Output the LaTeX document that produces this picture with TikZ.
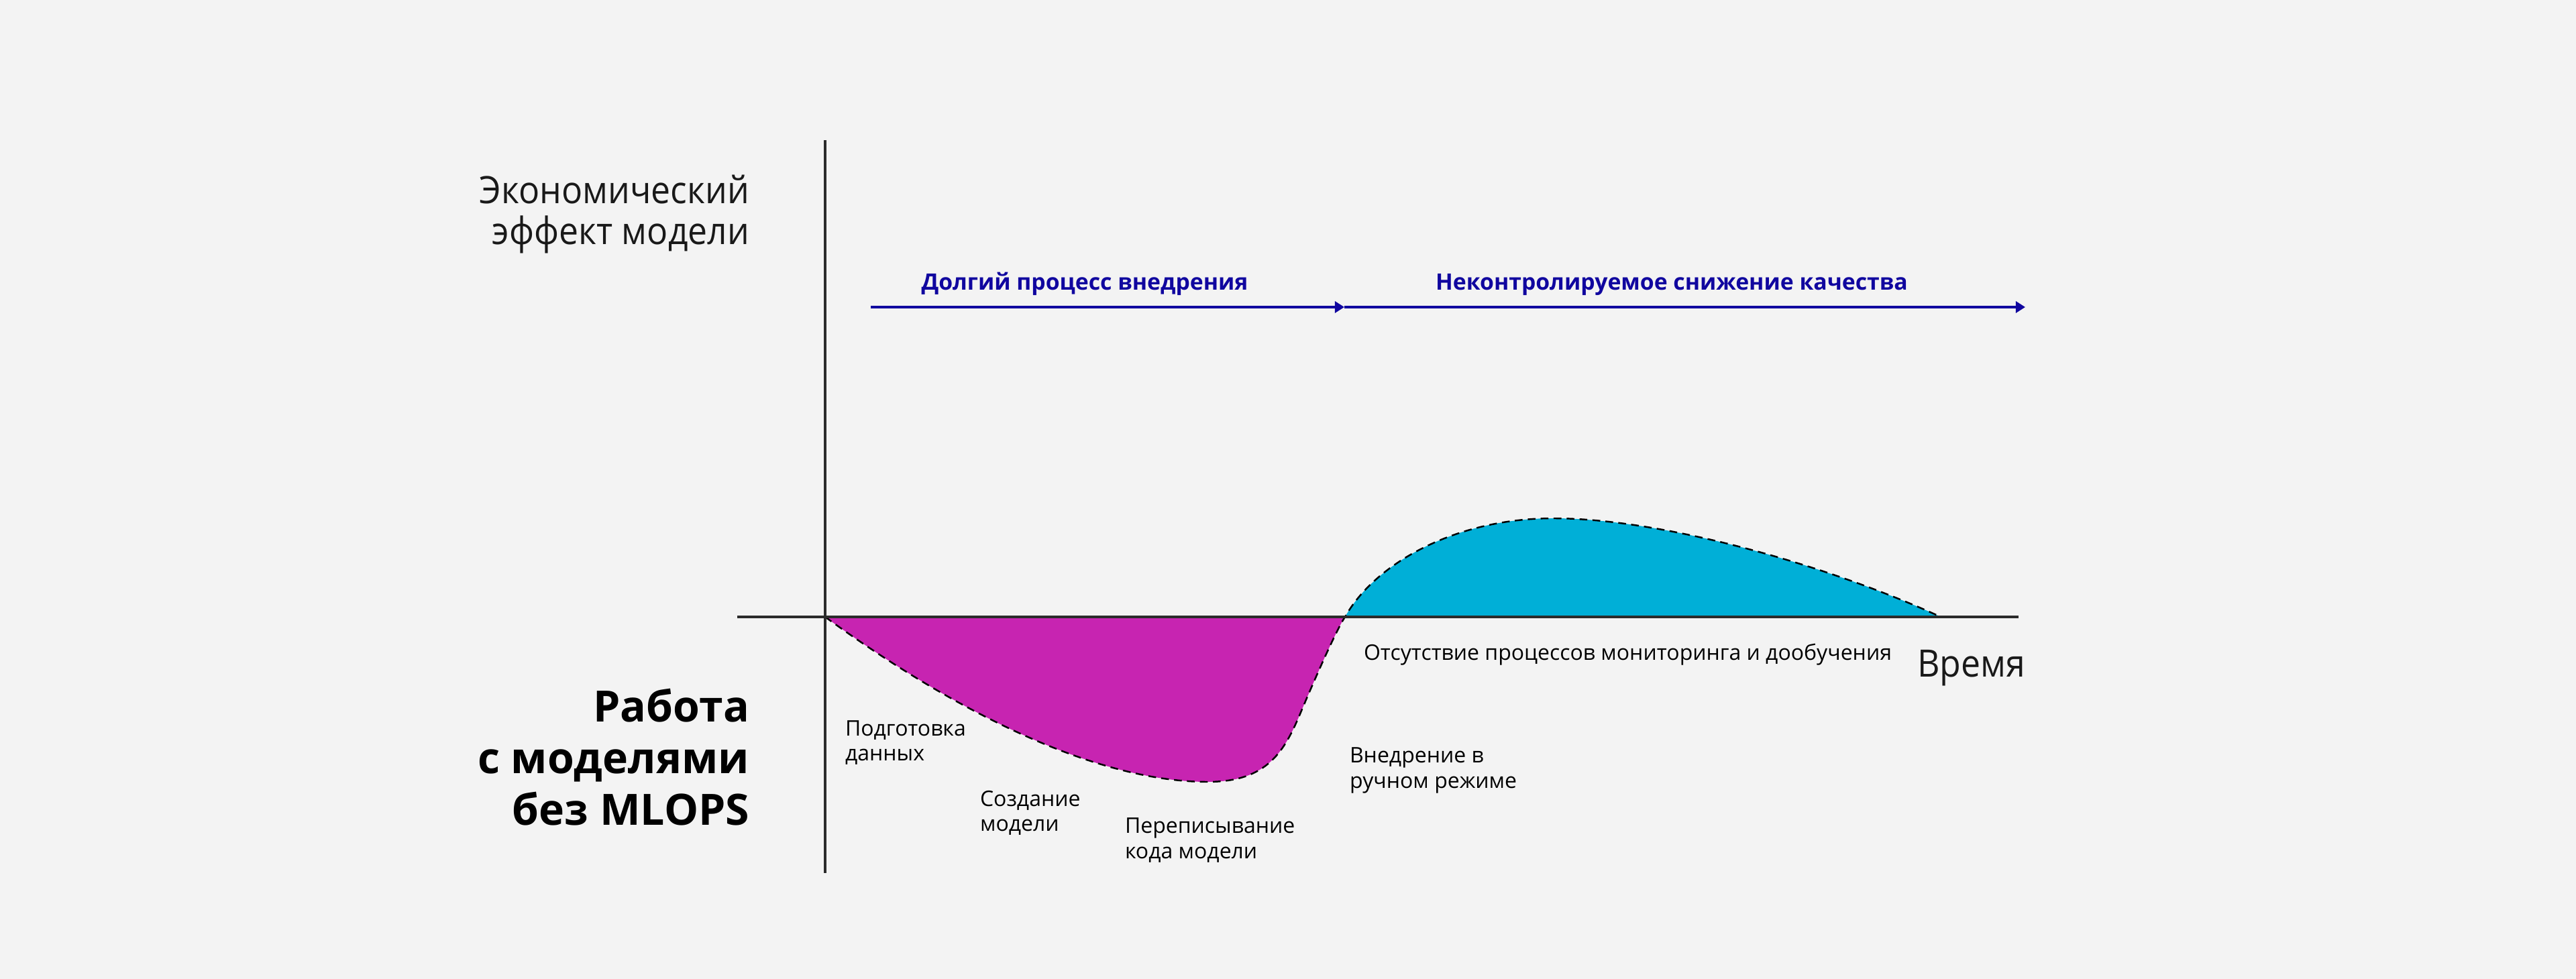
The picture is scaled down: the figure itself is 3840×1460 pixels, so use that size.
\documentclass[tikz,border=0pt]{standalone}
\usepackage{fontspec}
\setmainfont{Open Sans}
\newfontfamily\axisfont{Open Sans}[FakeStretch=0.92]
\usetikzlibrary{arrows.meta,positioning}
\definecolor{bggray}{HTML}{F3F3F3}
\definecolor{lossmagenta}{HTML}{C724B1}
\definecolor{gaincyan}{HTML}{00AFD7}
\definecolor{phaseblue}{HTML}{10069F}
\definecolor{axisgray}{HTML}{2B2B2B}
\begin{document}
\begin{tikzpicture}[x=0.1mm,y=-0.1mm,
    every node/.style={inner sep=0pt,outer sep=0pt},
    axisline/.style={draw=axisgray,line width=1.15pt},
    phasearrow/.style={draw=phaseblue,line width=1pt,-{Triangle[length=4pt,width=4.8pt]}},
    phaselabel/.style={font=\fontsize{9.6}{11}\selectfont\bfseries,text=phaseblue,anchor=base},
    stagelabel/.style={font=\fontsize{9.1}{10.8}\selectfont,align=left,anchor=base west},
    bigaxislabel/.style={font=\axisfont\fontsize{16}{17.6}\selectfont,text=black!90},
    effectcurve/.style={draw=black,line width=0.7pt,dash pattern=on 3.3pt off 2.2pt}
    ]

    \fill[bggray] (0,0) rectangle (3840,1460);

    % axes and phase arrows
    \coordinate (O) at (1230,920);
    \coordinate (ytop) at (1230,209);
    \coordinate (ybot) at (1230,1302);
    \coordinate (xleft) at (1099,920);
    \coordinate (xright) at (3009,920);
    \coordinate (cross) at (2005,920);
    \coordinate (gainend) at (2893,920);
    \coordinate (phase0) at (1298,458);
    \coordinate (phase1) at (2004,458);
    \coordinate (phase2) at (3019,458);

    % loss and gain areas
    \fill[lossmagenta] (O) .. controls (1450,1080) and (1650,1166) .. (1800,1166)
      .. controls (1890,1166) and (1915,1120) .. (1940,1060)
      .. controls (1956,1022) and (1991,941) .. (cross) -- cycle;
    \fill[gaincyan] (cross) .. controls (2050,840) and (2170,773) .. (2315,773)
      .. controls (2480,773) and (2730,845) .. (gainend) -- cycle;
    \draw[effectcurve] (O) .. controls (1450,1080) and (1650,1166) .. (1800,1166)
      .. controls (1890,1166) and (1915,1120) .. (1940,1060)
      .. controls (1956,1022) and (1991,941) .. (cross)
      .. controls (2050,840) and (2170,773) .. (2315,773)
      .. controls (2480,773) and (2730,845) .. (gainend);

    \draw[axisline] (xleft) -- (xright);
    \draw[axisline] (ytop) -- (ybot);
    \draw[phasearrow] (phase0) -- (phase1);
    \draw[phasearrow] (phase1) -- (phase2);

    \node[phaselabel] (slow) at (1617,433) {Долгий процесс внедрения};
    \node[phaselabel] (decay) at (2492,433) {Неконтролируемое снижение качества};

    \node[bigaxislabel,align=right,anchor=base east] (effect) at (1117,365) {Экономический\\эффект модели};
    \node[bigaxislabel,anchor=base west] (time) at (2858,1010) {Время};
    \node[font=\fontsize{18.3}{21.9}\selectfont\bfseries,align=right,anchor=base east] (nomlops) at (1117,1230) {Работа\\с моделями\\без MLOPS};

    \node[stagelabel] (prep) at (1260,1135) {Подготовка\\данных};
    \node[stagelabel] (build) at (1461,1240) {Создание\\модели};
    \node[stagelabel] (rewrite) at (1677,1280) {Переписывание\\кода модели};
    \node[stagelabel] (manual) at (2012,1175) {Внедрение в\\ручном режиме};
    \node[stagelabel] (nomon) at (2033,985) {Отсутствие процессов мониторинга и дообучения};
  \end{tikzpicture}
\end{document}
